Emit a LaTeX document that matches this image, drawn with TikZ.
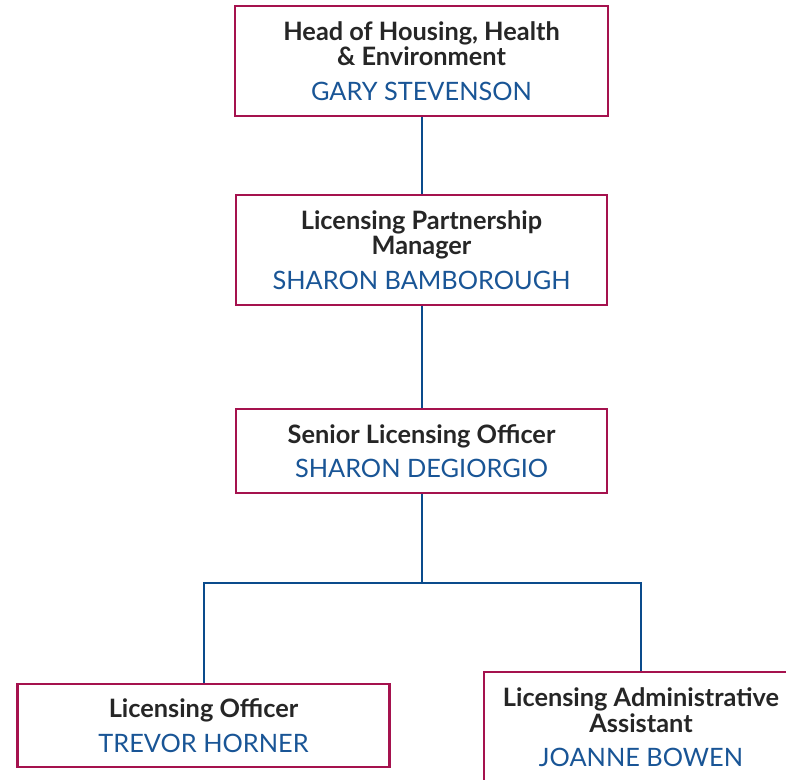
\documentclass[tikz,border=0pt]{standalone}
\usepackage{fontspec}
\setmainfont{Lato}
\usetikzlibrary{positioning}
\definecolor{boxred}{RGB}{165,18,78}
\definecolor{nameblue}{RGB}{25,85,150}
\definecolor{lineblue}{RGB}{10,75,140}
\tikzstyle{post} = [rectangle, draw=boxred, line width=2pt, fill=white, align=center, inner sep=0pt, font=\fontsize{19}{19}\selectfont\bfseries, text=black!85]
\tikzstyle{link} = [draw=lineblue, line width=1.5pt]
\newcommand{\holder}[1]{\\[7pt]{\fontsize{19}{19}\selectfont\mdseries\color{nameblue}#1}}

\begin{document}
\begin{tikzpicture}[x=0.75pt, y=-0.75pt]
\useasboundingbox (0,0) rectangle (786,779);
\clip (0,0) rectangle (786,779);

% Nodes
\node[post, minimum width=279.75pt, minimum height=82.5pt] (head) at (421.5,61) {Head of Housing, Health\\\& Environment\holder{GARY STEVENSON}};
\node[post, minimum width=278.25pt, minimum height=82.5pt] (lpm) at (421.5,250) {Licensing Partnership\\Manager\holder{SHARON BAMBOROUGH}};
\node[post, minimum width=278.25pt, minimum height=63pt] (slo) at (421.5,451) {Senior Licensing Officer\holder{SHARON DEGIORGIO}};
\node[post, minimum width=279pt, minimum height=62.25pt] (lo) at (203.5,725.5) {Licensing Officer\holder{TREVOR HORNER}};
\node[post, minimum width=235.5pt, minimum height=83.25pt] (laa) at (641,727.5) {Licensing Administrative\\Assistant\holder{JOANNE BOWEN}};
\coordinate (split) at (421.5,583);

% Connectors
\draw[link] (head) -- (lpm);
\draw[link] (lpm) -- (slo);
\draw[link] (slo) -- (split);
\draw[link] (lo.north) |- (split) -| (laa.north);

\end{tikzpicture}
\end{document}
